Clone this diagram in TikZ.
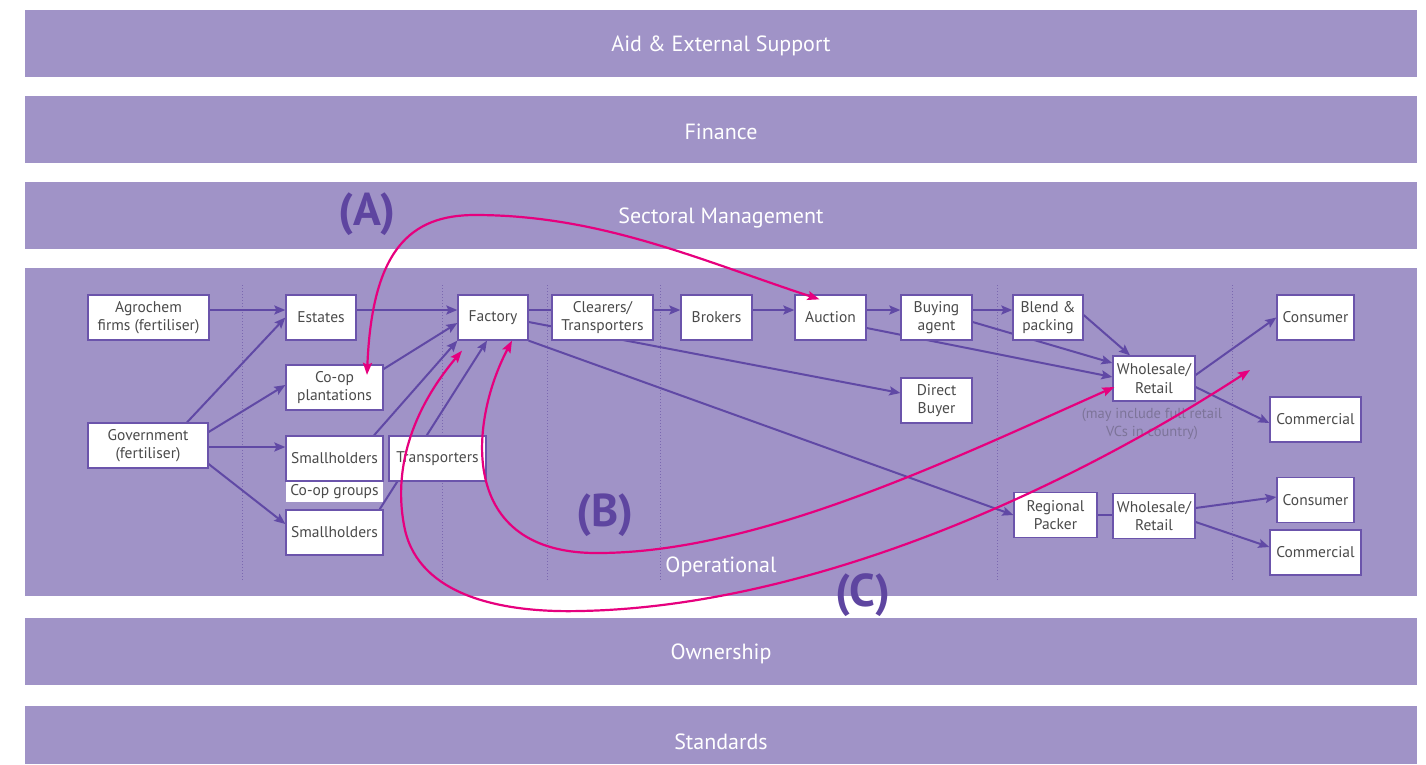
\documentclass[tikz,border=0pt]{standalone}
\usepackage{fontspec}
\setmainfont{PT Sans}
\usetikzlibrary{arrows.meta,calc}
\definecolor{bandc}{HTML}{A093C7}
\definecolor{edgec}{HTML}{6049A5}
\definecolor{boxc}{HTML}{6B54AB}
\definecolor{txtc}{HTML}{4A4A4A}
\definecolor{magc}{HTML}{E6007E}
\definecolor{labc}{HTML}{5E45A0}
\definecolor{notec}{HTML}{7D7499}
\definecolor{dotc}{HTML}{7B68B0}
\pgfdeclarelayer{bg}
\pgfdeclarelayer{edges}
\pgfdeclarelayer{fg}
\pgfsetlayers{bg,edges,main,fg}
\begin{document}
\begin{tikzpicture}[x=1pt,y=-1pt,
  bandbar/.style={fill=bandc},
  bandtext/.style={text=white,font=\fontsize{22}{25}\selectfont,inner sep=0pt},
  box/.style={draw=boxc,line width=1.3pt,fill=white,text=txtc,align=center,inner sep=0pt,minimum height=45pt,font=\fontsize{15.5}{18.5}\selectfont},
  flow/.style={draw=edgec,line width=2pt,-{Stealth[length=11pt,width=9pt,inset=2pt]}},
  link/.style={draw=edgec,line width=2pt},
  mag/.style={draw=magc,line width=2.2pt,{Stealth[length=12pt,width=9pt,inset=2pt]}-{Stealth[length=12pt,width=9pt,inset=2pt]}},
  biglab/.style={text=labc,font=\fontsize{46}{50}\selectfont\bfseries,inner sep=0pt},
  divider/.style={draw=dotc,line width=1pt,dotted}
]
\useasboundingbox (0,0) rectangle (1426,764);

\begin{pgfonlayer}{bg}
\fill[bandbar] (25,10) rectangle (1417,77);
\fill[bandbar] (25,96) rectangle (1417,163);
\fill[bandbar] (25,182) rectangle (1417,249);
\fill[bandbar] (25,268) rectangle (1417,596);
\fill[bandbar] (25,618) rectangle (1417,685);
\fill[bandbar] (25,706) rectangle (1417,764);
\foreach \xx in {242,442,547,660,997,1232}
  \draw[divider] (\xx,285) -- (\xx,580);
\end{pgfonlayer}

\node[bandtext] (b1) at (721,46) {Aid \& External Support};
\node[bandtext] (b2) at (721,132) {Finance};
\node[bandtext] (b3) at (721,218) {Sectoral Management};
\node[bandtext] (b4) at (721,567) {Operational};
\node[bandtext] (b5) at (721,654) {Ownership};
\node[bandtext] (b6) at (721,742) {Standards};

% boxes
\node[box,minimum width=121pt] (agro) at (148.5,317.5) {Agrochem\\firms (fertiliser)};
\node[box,minimum width=70pt] (est) at (321,317.5) {Estates};
\node[box,minimum width=97pt] (coop) at (334.5,387.5) {Co-op\\plantations};
\node[box,minimum width=120pt] (gov) at (148,445.5) {Government\\(fertiliser)};
\node[box,minimum width=97pt] (sh1) at (334.5,458.5) {Smallholders};
\node[box,draw=none,minimum width=97pt,minimum height=20pt] (coopg) at (334.5,492) {Co-op groups};
\node[box,minimum width=97pt] (sh2) at (334.5,532.5) {Smallholders};
\node[box,minimum width=97pt] (tra) at (437.5,458.5) {Transporters};
\node[box,minimum width=70pt] (fac) at (493,317.5) {Factory};
\node[box,minimum width=101pt] (cle) at (602.5,317.5) {Clearers/\\Transporters};
\node[box,minimum width=71pt] (bro) at (716.5,317.5) {Brokers};
\node[box,minimum width=71pt] (auc) at (830.5,317.5) {Auction};
\node[box,minimum width=71pt] (buy) at (936.5,317.5) {Buying\\agent};
\node[box,minimum width=71pt] (db) at (936.5,400.5) {Direct\\Buyer};
\node[box,minimum width=70pt] (ble) at (1048,317.5) {Blend \&\\packing};
\node[box,minimum width=82pt] (wr1) at (1154,378.5) {Wholesale/\\Retail};
\node[text=notec,align=center,inner sep=0pt,font=\fontsize{14.5}{18}\selectfont] (note) at (1152,424) {(may include full retail\\VCs in country)};
\node[box,minimum width=77pt] (con1) at (1315.5,317.5) {Consumer};
\node[box,minimum width=91pt] (com1) at (1315.5,419.5) {Commercial};
\node[box,minimum width=83pt] (rp) at (1055.5,515) {Regional\\Packer};
\node[box,minimum width=82pt] (wr2) at (1154,516) {Wholesale/\\Retail};
\node[box,minimum width=77pt] (con2) at (1315.5,500) {Consumer};
\node[box,minimum width=91pt] (com2) at (1315.5,552.5) {Commercial};

% flows
\begin{pgfonlayer}{edges}
\draw[flow] ([yshift=7.5pt]agro.east) -- ([yshift=7.5pt]est.west);
\draw[flow] ([xshift=39pt]gov.north) -- (est.west);
\draw[flow] ([yshift=13.5pt]gov.east) -- ([yshift=2.5pt]coop.west);
\draw[flow] ([yshift=-1.5pt]gov.east) -- ([yshift=-1.5pt]gov.east -| sh1.west);
\draw[flow] ([yshift=-18.5pt]gov.east) -- ([yshift=8.5pt]sh2.west);
\draw[flow] ([yshift=7.5pt]est.east) -- ([yshift=7.5pt]fac.west);
\draw[flow] ([yshift=18.5pt]coop.east) -- ([yshift=-5.5pt]fac.west);
\draw[flow] ([xshift=39.5pt]sh1.north) -- (fac.south west);
\draw[flow] ([xshift=-4pt]sh2.north east) -- ([xshift=-6pt]fac.south);
\draw[link] ([yshift=7.5pt]fac.east) -- ([yshift=7.5pt]cle.west);
\draw[flow] ([yshift=7.5pt]cle.east) -- ([yshift=7.5pt]bro.west);
\draw[flow] ([yshift=7.5pt]bro.east) -- ([yshift=7.5pt]auc.west);
\draw[flow] ([yshift=7.5pt]auc.east) -- ([yshift=7.5pt]buy.west);
\draw[flow] ([yshift=7.5pt]buy.east) -- ([yshift=7.5pt]ble.west);
\draw[flow] ([yshift=-4.5pt]fac.east) -- ([yshift=7.5pt]db.west);
\draw[flow] (fac.south east) -- (rp.west);
\draw[flow] ([yshift=-10.5pt]auc.east) -- ([yshift=1.5pt]wr1.west);
\draw[flow] ([yshift=-4.5pt]buy.east) -- ([yshift=15.5pt]wr1.west);
\draw[flow] ([yshift=2.5pt]ble.east) -- ([xshift=-24pt]wr1.north);
\draw[flow] ([yshift=3.5pt]wr1.east) -- (con1.west);
\draw[flow] ([yshift=-8.5pt]wr1.east) -- ([yshift=-3.5pt]com1.west);
\draw[link] (rp.east) -- (rp.east -| wr2.west);
\draw[flow] ([yshift=8pt]wr2.east) -- ([yshift=3pt]con2.west);
\draw[flow] ([yshift=-6pt]wr2.east) -- ([yshift=5.5pt]com2.west);
\end{pgfonlayer}

% highlighted routes
\coordinate (cEnd) at (1250,370);
\begin{pgfonlayer}{fg}
\draw[mag] ([xshift=32.5pt,yshift=-10.5pt]coop.north) .. controls (372,250) and (410,215) .. (475,215)
  .. controls (600,215) and (700,260) .. ([xshift=-11pt,yshift=-5pt]auc.north);
\draw[mag] ([xshift=19pt,yshift=0pt]fac.south) .. controls (470,420) and (455,555) .. (600,553)
  .. controls (760,552) and (950,460) .. ([xshift=2pt,yshift=-8.5pt]wr1.west);
\draw[mag] ([xshift=-31pt,yshift=-10pt]fac.south) .. controls (412,410) and (392,470) .. (405,530)
  .. controls (420,595) and (500,613) .. (580,611)
  .. controls (800,607) and (1050,500) .. (cEnd);
\end{pgfonlayer}

\node[biglab] (labA) at (367,214) {(A)};
\node[biglab] (labB) at (605,515) {(B)};
\node[biglab] (labC) at (863,595) {(C)};
\end{tikzpicture}
\end{document}
